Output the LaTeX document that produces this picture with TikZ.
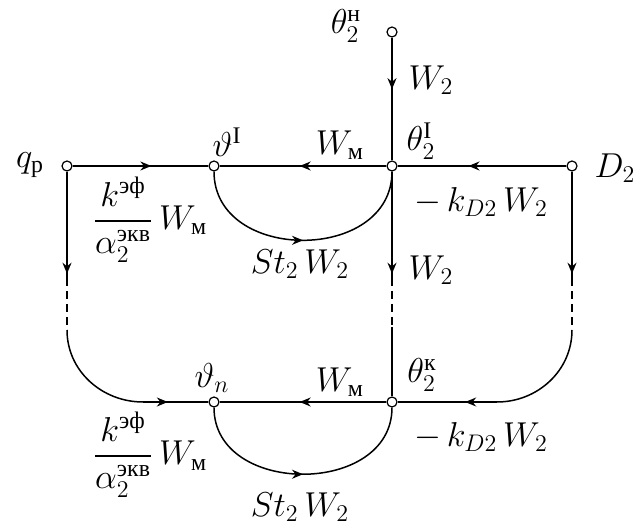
\documentclass[tikz,border=0pt]{standalone}
\usepackage{amsmath}
\usepackage{fontspec}
\setmainfont{Liberation Serif}
\usetikzlibrary{arrows.meta,decorations.markings}

\begin{document}
\begin{tikzpicture}[
  x=0.5pt, y=-0.5pt,
  every node/.style={font=\fontsize{17}{20}\selectfont, inner sep=1pt},
  vertex/.style={draw, circle, fill=white, line width=0.6pt, minimum size=5pt, inner sep=0pt},
  branch/.style={line width=0.75pt},
  gap/.style={branch, dash pattern=on 4pt off 2.5pt},
  midarr/.style={branch, postaction={decorate},
    decoration={markings, mark=at position #1 with {\arrow{Stealth[length=5.5pt,width=4.5pt]}}}},
  midarr/.default=0.5,
]
  \useasboundingbox (0,0) rectangle (638,529);
  % vertices of the graph
  \node[vertex] (tn) at (392,32)  {};
  \node[vertex] (t1) at (392,166) {};
  \node[vertex] (D)  at (572,166) {};
  \node[vertex] (qp) at (67,166)  {};
  \node[vertex] (v1) at (214,166) {};
  \node[vertex] (tk) at (392,402) {};
  \node[vertex] (vn) at (214,402) {};
  % break points of the omitted sections
  \coordinate (t1s) at (392,278); \coordinate (t1e) at (392,327);
  \coordinate (qs)  at (67,278);  \coordinate (qe)  at (67,330);
  \coordinate (Ds)  at (572,278); \coordinate (De)  at (572,330);
  \coordinate (qc)  at (143,402); \coordinate (Dc)  at (497,402);
  % upper section
  \draw[midarr=0.42] (tn) -- (t1);
  \draw[midarr=0.58] (qp) -- (v1);
  \draw[midarr=0.52] (t1) -- (v1);
  \draw[midarr=0.58] (D) -- (t1);
  \draw[midarr] (v1) to[out=-90, in=-90, looseness=1.32] (t1);
  % links down to the last section
  \draw[midarr=0.96] (t1) -- (t1s);
  \draw[gap] (t1s) -- (t1e);
  \draw[branch] (t1e) -- (tk);
  \draw[midarr=0.96] (qp) -- (qs);
  \draw[gap] (qs) -- (qe);
  \draw[branch] (qe) to[out=-90, in=180] (qc);
  \draw[midarr=0.38] (qc) -- (vn);
  \draw[midarr=0.96] (D) -- (Ds);
  \draw[gap] (Ds) -- (De);
  \draw[branch] (De) to[out=-90, in=0] (Dc);
  \draw[midarr=0.32] (Dc) -- (tk);
  % last section
  \draw[midarr=0.52] (tk) -- (vn);
  \draw[midarr] (vn) to[out=-90, in=-90, looseness=1.28] (tk);
  % labels
  \node (tnl) at (346,26)  {$\theta_2^{\text{н}}$};
  \node (w2a) at (431,80)  {$W_2$};
  \node (t1l) at (421,141) {$\theta_2^{\mathrm{I}}$};
  \node (wm1) at (340,145) {$W_{\text{м}}$};
  \node (v1l) at (227,142) {$\vartheta^{\mathrm{I}}$};
  \node (qpl) at (30,165)  {$q_{\text{р}}$};
  \node (Dl)  at (615,168) {$D_2$};
  \node (kd1) at (481,202) {$-\,k_{D2}\,W_2$};
  \node (kf1) at (150,220) {$\dfrac{k^{\text{эф}}}{\alpha_2^{\text{экв}}}\,W_{\text{м}}$};
  \node (st1) at (300,264) {$St_2\,W_2$};
  \node (w2b) at (431,270) {$W_2$};
  \node (tkl) at (422,375) {$\theta_2^{\text{к}}$};
  \node (wm2) at (340,382) {$W_{\text{м}}$};
  \node (vnl) at (212,378) {$\vartheta_n$};
  \node (kd2) at (481,437) {$-\,k_{D2}\,W_2$};
  \node (kf2) at (150,455) {$\dfrac{k^{\text{эф}}}{\alpha_2^{\text{экв}}}\,W_{\text{м}}$};
  \node (st2) at (300,507) {$St_2\,W_2$};
\end{tikzpicture}
\end{document}
